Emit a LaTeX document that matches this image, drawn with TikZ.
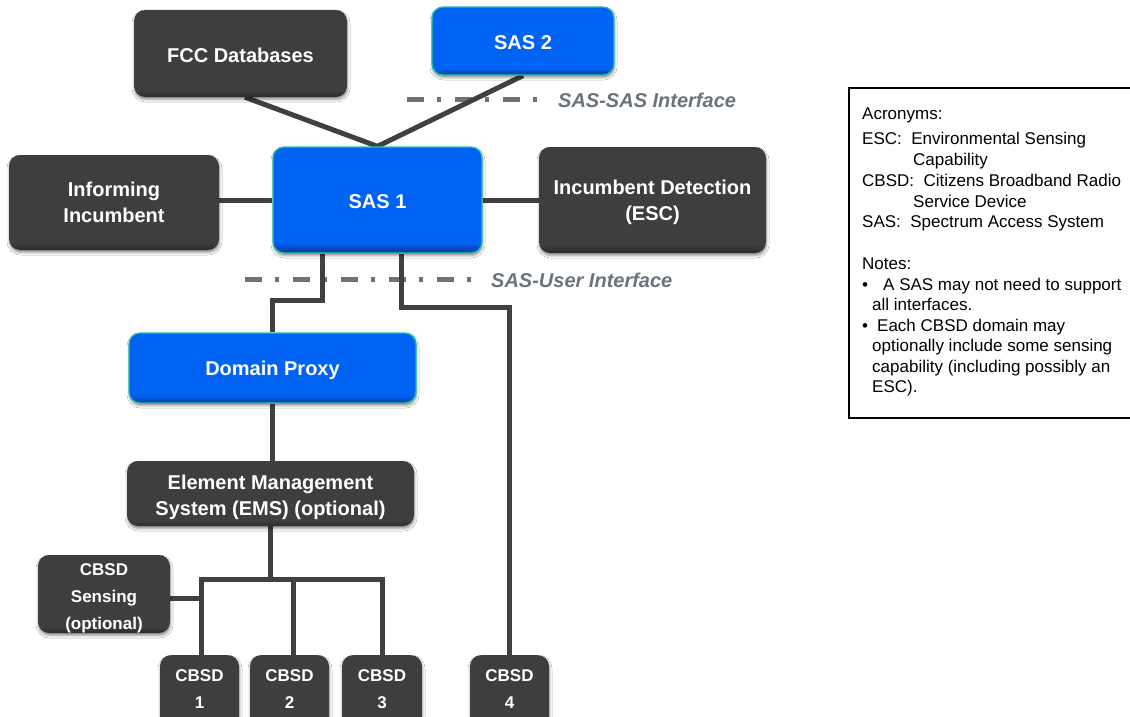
\documentclass[tikz,border=0pt]{standalone}
\usepackage{fontspec}
\setmainfont{Liberation Sans}
\usetikzlibrary{shadows.blur,calc,backgrounds}
\definecolor{boxdark}{HTML}{3E3E3E}
\definecolor{boxdarkb}{HTML}{2B2B2B}
\definecolor{bluemain}{HTML}{0063F4}
\definecolor{bluedeep}{HTML}{0A3696}
\definecolor{blueedge}{HTML}{24C3A0}
\definecolor{linegray}{HTML}{404040}
\definecolor{ifgray}{HTML}{6C737D}
\pgfdeclareverticalshading{blueshade}{100bp}{color(0bp)=(bluedeep); color(25bp)=(bluedeep); color(30bp)=(bluemain); color(100bp)=(bluemain)}
\pgfdeclareverticalshading{darkshade}{100bp}{color(0bp)=(boxdarkb); color(25bp)=(boxdarkb); color(29bp)=(boxdark); color(100bp)=(boxdark)}
\begin{document}
\begin{tikzpicture}[x=1pt,y=-1pt,
  base box/.style={rectangle, rounded corners=11pt, inner sep=0pt,
    blur shadow={shadow xshift=0.5pt, shadow yshift=-2.5pt, shadow blur radius=2.5pt, shadow opacity=45}},
  darkbox/.style={base box, shade, shading=darkshade},
  bluebox/.style={base box, shade, shading=blueshade, draw=blueedge, line width=1.3pt},
  boxtext/.style={text=white, inner sep=0pt, align=center, font=\bfseries\fontsize{20}{26}\selectfont},
  smalltext/.style={text=white, inner sep=0pt, align=center, font=\bfseries\fontsize{17}{27}\selectfont},
  link/.style={draw=linegray, line width=5pt},
  iface/.style={draw=ifgray, line width=5pt, dash pattern=on 17pt off 13pt on 4pt off 14pt},
  ifacetext/.style={text=ifgray, font=\bfseries\itshape\fontsize{20}{24}\selectfont, anchor=west, inner sep=0pt},
  notes/.style={anchor=north west, inner sep=0pt, align=left, font=\fontsize{17}{20.4}\selectfont},
]
\useasboundingbox (0,0) rectangle (1130,717);

% boxes
\node[darkbox, minimum width=213pt, minimum height=87pt] (fcc) at (240.5,53.5) {};
\node[bluebox, minimum width=182pt, minimum height=68pt] (sas2) at (523,41) {};
\node[bluebox, minimum width=209pt, minimum height=106pt] (sas1) at (377.5,200) {};
\node[darkbox, minimum width=210pt, minimum height=95pt] (inform) at (114,202.5) {};
\node[darkbox, minimum width=227pt, minimum height=106pt] (esc) at (652.5,200) {};
\node[bluebox, minimum width=287pt, minimum height=70pt] (dp) at (272.5,368) {};
\node[darkbox, minimum width=287pt, minimum height=65pt] (ems) at (270.5,493.5) {};
\node[darkbox, minimum width=132pt, minimum height=78pt] (sens) at (104,594) {};
\node[darkbox, minimum width=79pt, minimum height=90pt, anchor=north] (c1) at (199.5,655) {};
\node[darkbox, minimum width=79pt, minimum height=90pt, anchor=north] (c2) at (289.5,655) {};
\node[darkbox, minimum width=80pt, minimum height=90pt, anchor=north] (c3) at (382,655) {};
\node[darkbox, minimum width=79pt, minimum height=90pt, anchor=north] (c4) at (509.5,655) {};

% box texts
\node[boxtext] (fcct) at ($(fcc)+(0,2)$) {FCC Databases};
\node[boxtext] (sas2t) at ($(sas2)+(0,2)$) {SAS 2};
\node[boxtext] (sas1t) at ($(sas1)+(0,2)$) {SAS 1};
\node[boxtext] (informt) at ($(inform)+(0,0)$) {Informing\\Incumbent};
\node[boxtext] (esct) at ($(esc)+(0,2)$) {Incumbent Detection\\(ESC)};
\node[boxtext] (dpt) at ($(dp)+(0,2)$) {Domain Proxy};
\node[boxtext] (emst) at ($(ems)+(0,4)$) {Element Management\\System (EMS) (optional)};
\node[smalltext] (senst) at ($(sens)+(0,4)$) {CBSD\\Sensing\\(optional)};
\node[smalltext] (c1t) at (199.5,689) {CBSD\\1};
\node[smalltext] (c2t) at (289.5,689) {CBSD\\2};
\node[smalltext] (c3t) at (382,689) {CBSD\\3};
\node[smalltext] (c4t) at (509.5,689) {CBSD\\4};

% interface labels
\node[ifacetext] (lsas) at (558,100) {SAS-SAS Interface};
\node[ifacetext] (luser) at (491,280) {SAS-User Interface};

% notes box
\draw[black, line width=1.8pt] (849,88) rectangle (1160,418);
\node[notes] (notes) at (862,108) {%
Acronyms:\\[4.5pt]
ESC:\ \ Environmental Sensing\\
\hspace*{51pt}Capability\\[1pt]
CBSD:\ \ Citizens Broadband Radio\\
\hspace*{51pt}Service Device\\[0.5pt]
SAS:\ \ Spectrum Access System\\[21pt]
Notes:\\[0.5pt]
\makebox[21pt][l]{\textbullet}A SAS may not need to support\\
\hspace*{10pt}all interfaces.\\[0.5pt]
\makebox[15pt][l]{\textbullet}Each CBSD domain may\\
\hspace*{10pt}optionally include some sensing\\
\hspace*{10pt}capability (including possibly an\\
\hspace*{10pt}ESC).};

\coordinate (bus) at (270.5,579);
\coordinate (ssA) at (407,99);
\coordinate (ssB) at (537,99);
\coordinate (suA) at (245,279);
\coordinate (suB) at (471,279);

\begin{scope}[on background layer]
  \fill[white] (0,0) rectangle (1130,717);
  \path[iface] (ssA) -- (ssB);
  \path[iface] (suA) -- (suB);
  \path[link] ([xshift=4.5pt]fcc.south) -- (sas1.north) -- (sas2.south);
  \path[link] (inform.east |- sas1.west) -- (sas1.west);
  \path[link] (sas1.east) -- (esc.west);
  \path[link] ([xshift=-55pt]sas1.south) -- ++(0,47) -| (dp.north);
  \path[link] ([xshift=23.5pt]sas1.south) -- ++(0,54) -| (c4.north);
  \path[link] (dp.south) -- (dp.south |- ems.north);
  \path[link] (ems.south) -- (bus);
  \path[link] ([xshift=1.5pt]c1.north) |- (c3.north |- bus) -- (c3.north);
  \path[link] ([xshift=3.5pt]c2.north) -- ([xshift=3.5pt]c2.north |- bus);
  \path[link] ([yshift=-4pt]sens.east) -- ++(32,0);
\end{scope}
\end{tikzpicture}
\end{document}
